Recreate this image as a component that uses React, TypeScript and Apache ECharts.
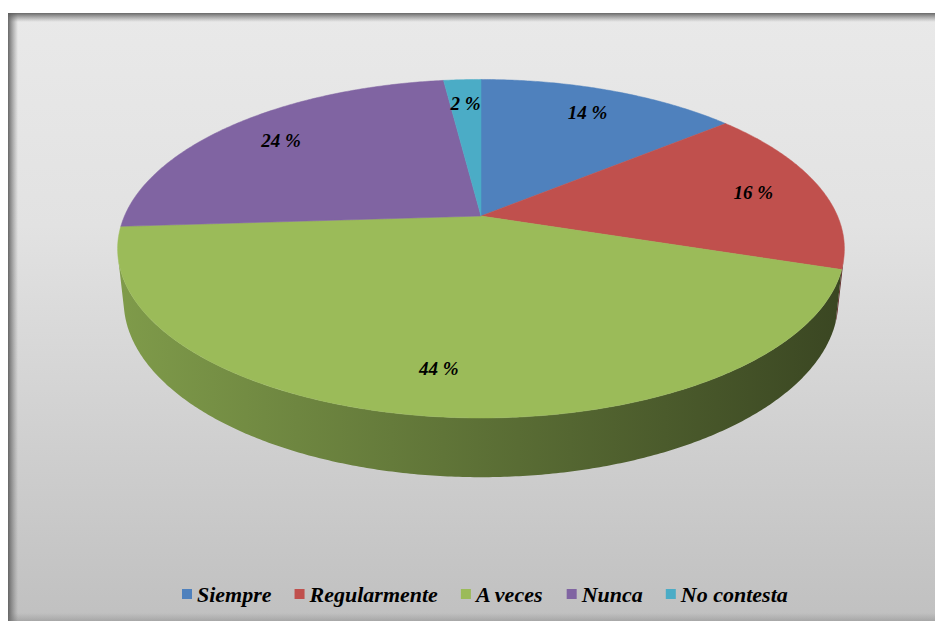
import React, { useEffect, useRef } from 'react';
import * as echarts from 'echarts';

const categories = ['Siempre', 'Regularmente', 'A veces', 'Nunca', 'No contesta'];
const values = [14, 16, 44, 24, 2];
const topColors = ['#4f81bd', '#c0504d', '#9bbb59', '#8064a2', '#4bacc6'];
const sideLeft = ['#3f6797', '#9a403e', '#7f9b4a', '#664f82', '#3c8a9e'];
const sideRight = ['#1e3148', '#5e2624', '#3a4622', '#30263d', '#1c414b'];

const FONT = "'Times New Roman', 'Liberation Serif', serif";

// perspective camera
const CX = 481;
const CY = 216;
const F = 1640;
const DIST = 4.6;
const SIN = 0.457;
const COS = Math.sqrt(1 - SIN * SIN);
const H = 0.164;
const LABEL_R = 0.8;

function proj(X: number, Y: number, Z: number): number[] {
  const d = Z * COS + Y * SIN;
  const u = Y * COS - Z * SIN;
  const s = F / (DIST - d);
  return [CX + s * X, CY - s * u];
}
function rim(deg: number, r: number, y: number): number[] {
  const t = (deg * Math.PI) / 180;
  return proj(r * Math.sin(t), y, -r * Math.cos(t));
}

const total = values.reduce((a, b) => a + b, 0);
const starts: number[] = [];
{
  let acc = 0;
  values.forEach((v) => {
    starts.push((acc / total) * 360);
    acc += v;
  });
}
const K = 1 / (DIST * COS);
const VIS_A = (Math.acos(-K) * 180) / Math.PI;
const VIS_B = 360 - VIS_A;

function arc(a1: number, a2: number, y: number): number[][] {
  const pts: number[][] = [];
  const n = Math.max(2, Math.ceil(Math.abs(a2 - a1) / 0.5));
  for (let k = 0; k <= n; k++) pts.push(rim(a1 + ((a2 - a1) * k) / n, 1, y));
  return pts;
}

const leftX = rim(VIS_B, 1, 0)[0];
const rightX = rim(VIS_A, 1, 0)[0];

function renderSide(params: any, api: any) {
  const i = params.dataIndex;
  const a1 = starts[i];
  const a2 = a1 + (values[i] / total) * 360;
  const s1 = Math.max(a1, VIS_A);
  const s2 = Math.min(a2, VIS_B);
  if (s2 <= s1) return { type: 'group', children: [] };
  const top = arc(s1, s2, 0);
  const bot = arc(s2, s1, -H);
  return {
    type: 'polygon',
    shape: { points: top.concat(bot) },
    style: {
      fill: new echarts.graphic.LinearGradient(leftX, 0, rightX, 0, [
        { offset: 0, color: sideLeft[i] },
        { offset: 1, color: sideRight[i] },
      ], true),
      stroke: null,
    },
  };
}

function renderTop(params: any, api: any) {
  const i = params.dataIndex;
  const a1 = starts[i];
  const a2 = a1 + (values[i] / total) * 360;
  const pts = [proj(0, 0, 0)].concat(arc(a1, a2, 0));
  const mid = (a1 + a2) / 2;
  const lp = rim(mid, LABEL_R, 0);
  return {
    type: 'group',
    children: [
      {
        type: 'polygon',
        shape: { points: pts },
        style: { fill: topColors[i], stroke: topColors[i], lineWidth: 0.5 },
      },
      {
        type: 'text',
        x: lp[0],
        y: lp[1],
        z2: 10,
        style: {
          text: values[i] + ' %',
          fill: '#000',
          fontSize: 19,
          fontWeight: 'bold',
          fontStyle: 'italic',
          fontFamily: FONT,
          align: 'center',
          verticalAlign: 'middle',
        },
      },
    ],
  };
}

const seriesData = values.map((v, i) => ({ name: categories[i], value: v }));

export default function App() {
  const ref = useRef<HTMLDivElement>(null);
  useEffect(() => {
    if (!ref.current) return;
    const chart = echarts.init(ref.current, null, { renderer: 'svg' });
    chart.setOption({
      animation: false,
      color: topColors,
      graphic: [
        {
          type: 'rect',
          z: -10,
          shape: { x: 8, y: 13, width: 927, height: 608 },
          style: {
            fill: new echarts.graphic.LinearGradient(0, 0, 0, 1, [
              { offset: 0, color: '#e9e9e9' },
              { offset: 0.35, color: '#e2e2e2' },
              { offset: 1, color: '#c0c0c0' },
            ]),
          },
        },
        {
          type: 'rect',
          z: -9,
          shape: { x: 8, y: 13, width: 10, height: 608 },
          style: {
            fill: new echarts.graphic.LinearGradient(0, 0, 1, 0, [
              { offset: 0, color: 'rgba(90,90,90,0.9)' },
              { offset: 1, color: 'rgba(120,120,120,0)' },
            ]),
          },
        },
        {
          type: 'rect',
          z: -9,
          shape: { x: 8, y: 13, width: 927, height: 9 },
          style: {
            fill: new echarts.graphic.LinearGradient(0, 0, 0, 1, [
              { offset: 0, color: 'rgba(90,90,90,0.9)' },
              { offset: 1, color: 'rgba(120,120,120,0)' },
            ]),
          },
        },
        {
          type: 'rect',
          z: -9,
          shape: { x: 8, y: 613, width: 927, height: 8 },
          style: {
            fill: new echarts.graphic.LinearGradient(0, 0, 0, 1, [
              { offset: 0, color: 'rgba(120,120,120,0)' },
              { offset: 1, color: 'rgba(120,120,120,0.35)' },
            ]),
          },
        },
      ],
      legend: {
        data: categories,
        left: 177,
        top: 578,
        icon: 'rect',
        itemWidth: 10,
        itemHeight: 10,
        itemGap: 23,
        selectedMode: false,
        textStyle: {
          color: '#000',
          fontSize: 22,
          fontWeight: 'bold',
          fontStyle: 'italic',
          fontFamily: FONT,
        },
      },
      series: [
        {
          type: 'pie',
          radius: [0, 0],
          center: [-50, -50],
          silent: true,
          label: { show: false },
          labelLine: { show: false },
          data: seriesData,
        },
        {
          type: 'custom',
          coordinateSystem: 'none',
          z: 2,
          silent: true,
          renderItem: renderSide,
          data: seriesData,
        },
        {
          type: 'custom',
          coordinateSystem: 'none',
          z: 3,
          silent: true,
          renderItem: renderTop,
          data: seriesData,
        },
      ],
    });
    return () => chart.dispose();
  }, []);
  return (
    <div
      ref={ref}
      style={{ position: 'absolute', left: 0, top: 0, width: 935, height: 621 }}
    />
  );
}
